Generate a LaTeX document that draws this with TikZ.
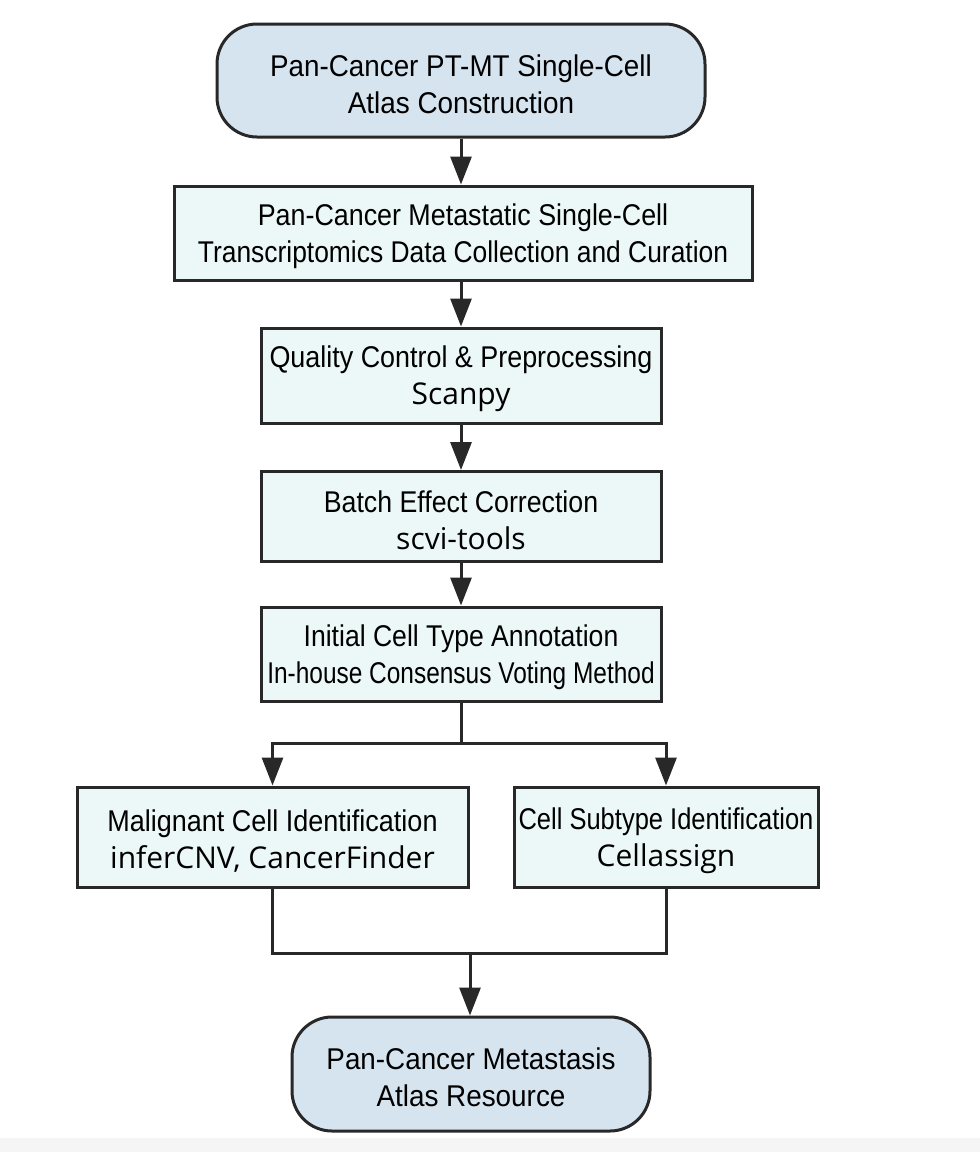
\documentclass[tikz,border=0pt]{standalone}
\usepackage{fontspec}
\setmainfont{Liberation Sans}
\newfontfamily\osans{Open Sans}
\usepackage{graphicx}
\usetikzlibrary{arrows.meta}
\definecolor{termfill}{RGB}{214,228,239}
\definecolor{boxfill}{RGB}{236,247,247}
\definecolor{ink}{RGB}{40,40,40}
\definecolor{bandgray}{RGB}{245,245,245}
\newcommand\hsq[2]{\scalebox{#1}[1]{#2}}
\newcommand\topstrut{\rule{0pt}{14.5pt}}
\begin{document}
\begin{tikzpicture}[x=0.5pt,y=-0.5pt,
  font=\fontsize{15}{18.5}\selectfont,
  term/.style={draw=ink, line width=1.5pt, fill=termfill, rounded corners=20pt, align=center, inner sep=0pt},
  stepbox/.style={draw=ink, line width=1.5pt, fill=boxfill, align=center, inner sep=0pt},
  arr/.style={draw=ink, line width=1.5pt, -{Triangle[length=14pt,width=10.5pt]}},
  ln/.style={draw=ink, line width=1.5pt}]
\useasboundingbox (0,0) rectangle (980,1152);
\fill[white] (0,0) rectangle (980,1152);
\fill[bandgray] (0,1138) rectangle (980,1152);

\node[term, minimum width=244pt, minimum height=56.5pt] (t1) at (461,80.5)
  {\topstrut\hsq{0.927}{Pan-Cancer PT-MT Single-Cell}\\\hsq{0.93}{Atlas Construction}};
\node[stepbox, minimum width=289pt, minimum height=47pt] (b2) at (463,233)
  {\topstrut\hsq{0.895}{Pan-Cancer Metastatic Single-Cell}\\\hsq{0.88}{Transcriptomics Data Collection and Curation}};
\node[stepbox, minimum width=200pt, minimum height=47.5pt] (b3) at (461,375.5)
  {\topstrut\hsq{0.897}{Quality Control \& Preprocessing}\\{\osans Scanpy}};
\node[stepbox, minimum width=200pt, minimum height=45pt] (b4) at (461,516.5)
  {\topstrut\hsq{0.891}{Batch Effect Correction}\\{\osans scvi-tools}};
\node[stepbox, minimum width=200pt, minimum height=47pt] (b5) at (461,654)
  {\topstrut\hsq{0.886}{Initial Cell Type Annotation}\\\hsq{0.815}{In-house Consensus Voting Method}};
\node[stepbox, minimum width=195.5pt, minimum height=50pt] (b6) at (272.5,837)
  {\topstrut\hsq{0.90}{Malignant Cell Identification}\\{\osans inferCNV, CancerFinder}};
\node[stepbox, minimum width=152pt, minimum height=50pt] (b7) at (666,837)
  {\topstrut\hsq{0.85}{Cell Subtype Identification}\\{\osans Cellassign}};
\node[term, minimum width=179pt, minimum height=57pt] (t8) at (471,1074)
  {\topstrut\hsq{0.927}{Pan-Cancer Metastasis}\\\hsq{0.929}{Atlas Resource}};

\coordinate (sp) at (461,743);
\coordinate (mg) at (470,953);

\draw[arr] (t1.south) -- (t1.south |- b2.north);
\draw[arr] (b3.north |- b2.south) -- (b3.north);
\draw[arr] (b3.south) -- (b4.north);
\draw[arr] (b4.south) -- (b5.north);
\draw[ln] (b5.south) -- (sp);
\draw[arr] (sp) -| (b6.north);
\draw[arr] (sp) -| (b7.north);
\draw[ln] (b6.south) |- (mg) -| (b7.south);
\draw[arr] (mg) -- (mg |- t8.north);
\end{tikzpicture}
\end{document}
